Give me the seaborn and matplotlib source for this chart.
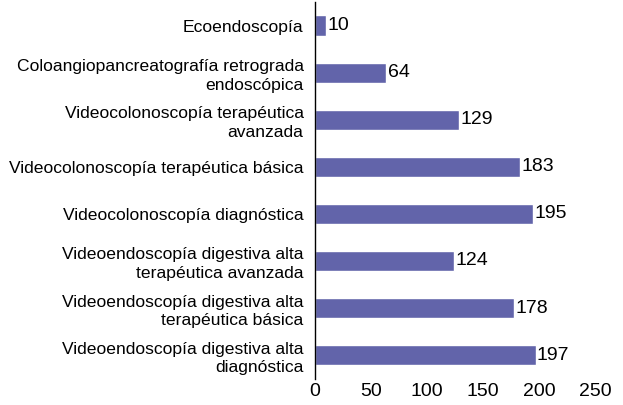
import pandas as pd
import seaborn as sns
import matplotlib.pyplot as plt

procedimientos = [
    "Ecoendoscopía",
    "Coloangiopancreatografía retrograda\nendoscópica",
    "Videocolonoscopía terapéutica\navanzada",
    "Videocolonoscopía terapéutica básica",
    "Videocolonoscopía diagnóstica",
    "Videoendoscopía digestiva alta\nterapéutica avanzada",
    "Videoendoscopía digestiva alta\nterapéutica básica",
    "Videoendoscopía digestiva alta\ndiagnóstica",
]
cantidad = [10, 64, 129, 183, 195, 124, 178, 197]

df = pd.DataFrame({"procedimiento": procedimientos, "total": cantidad})

sns.set_style("white")
plt.rcParams['font.family'] = ['Liberation Sans', 'DejaVu Sans']
plt.rcParams['text.color'] = 'black'
plt.rcParams['xtick.color'] = 'black'
plt.rcParams['ytick.color'] = 'black'

fig, ax = plt.subplots(figsize=(6.23, 4.05), dpi=100)
sns.barplot(data=df, y="procedimiento", x="total", color="#6264AA",
            width=0.43, ax=ax, saturation=1)

for i, v in enumerate(cantidad):
    ax.text(v + 1.2, i, str(v), va="center", ha="left", fontsize=14)

ax.set_xlim(0, 250)
ax.set_xticks([0, 50, 100, 150, 200, 250])
ax.set_xlabel("")
ax.set_ylabel("")
ax.tick_params(axis="y", length=0, labelsize=12.6, pad=8)
ax.tick_params(axis="x", length=0, labelsize=14, pad=3)
for label in ax.get_yticklabels():
    label.set_linespacing(1.3)
for s in ["top", "right", "bottom"]:
    ax.spines[s].set_visible(False)
ax.spines["left"].set_color("black")
ax.spines["left"].set_linewidth(1)

fig.subplots_adjust(left=0.505, right=0.955, top=0.995, bottom=0.065)
fig.savefig("out.png", dpi=100)
